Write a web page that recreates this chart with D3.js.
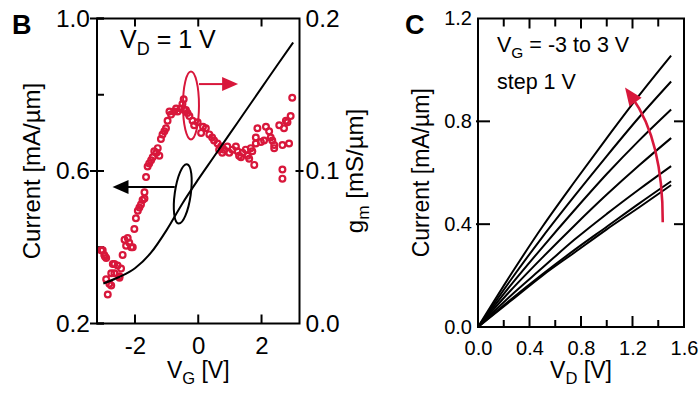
<!DOCTYPE html>
<html><head><meta charset="utf-8">
<script src="https://cdn.jsdelivr.net/npm/d3@7"></script>
<style>
body{margin:0;background:#fff}
svg{display:block}
text{font-family:'Liberation Sans',Arial,Helvetica,sans-serif}
</style>
</head><body>
<svg id="fig" width="699" height="393"></svg>
<script>
// ---------- Panel B: transfer characteristic at VD = 1 V ----------
const vgSweep = [-3, -2.5, -2, -1.5, -1, -0.5, 0, 0.5, 1, 1.5, 2, 2.5, 3];
const idSweep = [0.305, 0.322, 0.345, 0.385, 0.445, 0.515, 0.578, 0.638, 0.698, 0.758, 0.818, 0.878, 0.937];

// transconductance samples (VG in V, gm in mS/um)
const gmVg = [-3.07,-3.02,-2.97,-2.95,-2.91,-2.91,-2.86,-2.81,-2.75,-2.75,-2.70,-2.65,-2.65,-2.55,-2.49,-2.49,-2.44,-2.39,-2.33,-2.28,
  -2.23,-2.18,-2.12,-2.07,-2.02,-1.97,-1.91,-1.86,-1.81,-1.76,-1.70,-1.70,-1.65,-1.60,-1.55,-1.49,-1.44,-1.39,-1.32,-1.28,
  -1.23,-1.18,-1.13,-1.07,-1.02,-0.97,-0.91,-0.86,-0.76,-0.70,-0.65,-0.55,-0.50,-0.46,-0.44,-0.39,-0.34,-0.28,-0.18,-0.13,
  -0.02,0.09,0.15,0.24,0.35,0.44,0.50,0.61,0.66,0.72,0.76,0.82,0.92,0.98,1.08,1.19,1.24,1.29,1.35,1.40,
  1.50,1.56,1.61,1.66,1.71,1.77,1.82,1.82,1.87,1.98,2.08,2.14,2.24,2.29,2.34,2.40,2.40,2.56,2.66,2.66,
  2.66,2.71,2.77,2.82,2.87,2.92,2.97];
const gmVal = [0.048,0.048,0.045,0.044,0.043,0.029,0.019,0.026,0.025,0.033,0.039,0.039,0.033,0.038,0.031,0.030,0.036,0.045,0.055,0.051,
  0.056,0.053,0.050,0.050,0.062,0.069,0.074,0.076,0.078,0.081,0.082,0.086,0.096,0.103,0.105,0.107,0.109,0.113,0.112,0.115,
  0.110,0.121,0.124,0.126,0.128,0.133,0.139,0.137,0.139,0.141,0.139,0.141,0.144,0.147,0.140,0.140,0.138,0.136,0.133,0.130,
  0.132,0.125,0.129,0.128,0.124,0.122,0.120,0.118,0.114,0.116,0.112,0.114,0.116,0.112,0.114,0.116,0.113,0.110,0.109,0.112,
  0.114,0.110,0.108,0.115,0.113,0.104,0.118,0.122,0.128,0.119,0.120,0.129,0.126,0.122,0.120,0.117,0.115,0.130,0.117,0.101,
  0.095,0.128,0.133,0.132,0.118,0.136,0.148];

const bCurrentTicks = [0.2, 0.4, 0.6, 0.8, 1.0];
const bCurrentLabels = [0.2, 0.6, 1.0];
const bGmTicks = [0, 0.1, 0.2];
const bVgTicks = [-2, 0, 2];

// ---------- Panel C: output characteristics, VG = -3 ... 3 V ----------
const vdSteps = [0, 0.25, 0.5, 0.75, 1.0, 1.25, 1.5];
const idVgm3 = [0, 0.100, 0.200, 0.290, 0.380, 0.465, 0.552];
const idVgm2 = [0, 0.105, 0.205, 0.300, 0.390, 0.480, 0.567];
const idVgm1 = [0, 0.120, 0.230, 0.340, 0.440, 0.535, 0.626];
const idVg0  = [0, 0.140, 0.270, 0.395, 0.515, 0.628, 0.735];
const idVg1  = [0, 0.160, 0.310, 0.455, 0.595, 0.725, 0.846];
const idVg2  = [0, 0.180, 0.350, 0.510, 0.665, 0.815, 0.955];
const idVg3  = [0, 0.200, 0.390, 0.565, 0.735, 0.900, 1.056];
const outputCurves = [idVgm3, idVgm2, idVgm1, idVg0, idVg1, idVg2, idVg3];

const cCurrentTicks = [0, 0.4, 0.8, 1.2];
const cVdTicks = [0, 0.2, 0.4, 0.6, 0.8, 1.0, 1.2, 1.4, 1.6];
const cVdLabels = [0, 0.4, 0.8, 1.2, 1.6];

const RED = "#d8173b";
const FONT = "'Liberation Sans',Arial,Helvetica,sans-serif";
const svg = d3.select("#fig");
svg.append("rect").attr("width", 699).attr("height", 393).attr("fill", "#fff");

// helpers ------------------------------------------------------------
function vTicks(g, x0, scale, values, inner, outer, dir) {
  g.selectAll(null).data(values).join("line")
    .attr("x1", x0 - dir * outer).attr("x2", x0 + dir * inner)
    .attr("y1", d => scale(d)).attr("y2", d => scale(d))
    .attr("stroke", "#000").attr("stroke-width", 2);
}
function hTicks(g, y0, scale, values, lenFn, dir) {
  g.selectAll(null).data(values).join("line")
    .attr("y1", y0).attr("y2", d => y0 + dir * lenFn(d))
    .attr("x1", d => scale(d)).attr("x2", d => scale(d))
    .attr("stroke", "#000").attr("stroke-width", 2);
}
function styleAxis(g, size) {
  g.attr("font-family", FONT).attr("font-size", size);
  g.select(".domain").remove();
  g.selectAll(".tick line").remove();
  g.selectAll(".tick text").attr("fill", "#000");
}
function arrowHead(g, tip, from, len, half, color) {
  const dx = tip[0] - from[0], dy = tip[1] - from[1];
  const n = Math.hypot(dx, dy), ux = dx / n, uy = dy / n;
  const bx = tip[0] - ux * len, by = tip[1] - uy * len;
  g.append("path")
    .attr("d", `M${tip[0]},${tip[1]}L${bx - uy * half},${by + ux * half}L${bx + uy * half},${by - ux * half}Z`)
    .attr("fill", color);
}
function subText(g, x, y, size, parts, anchor) {
  const t = g.append("text").attr("x", x).attr("y", y).attr("font-size", size)
    .attr("text-anchor", anchor || "start").attr("fill", "#000");
  const sub = Math.round(size * 0.27);
  parts.forEach(([s, isSub]) => {
    if (isSub) t.append("tspan").attr("font-size", size * 0.72).attr("dy", sub).text(s);
    else t.append("tspan").attr("dy", t.selectAll("tspan").size() ? -sub : 0).text(s);
  });
  return t;
}

// ================= Panel B =================
const bx = d3.scaleLinear().domain([-3.2, 3.2]).range([97, 299.5]);
const by = d3.scaleLinear().domain([0.2, 1.0]).range([323.5, 18.5]);
const bgm = d3.scaleLinear().domain([0, 0.2]).range([323.5, 18.5]);
const gB = svg.append("g");

// tick labels through d3 axes
gB.append("g").attr("transform", `translate(${bx(-3.2)},0)`)
  .call(d3.axisLeft(by).tickValues(bCurrentLabels).tickFormat(d3.format(".1f")).tickSize(0).tickPadding(7))
  .call(g => styleAxis(g, 24.5));
gB.append("g").attr("transform", `translate(${bx(3.2)},0)`)
  .call(d3.axisRight(bgm).tickValues(bGmTicks).tickFormat(d3.format(".1f")).tickSize(0).tickPadding(6))
  .call(g => styleAxis(g, 24.5));
gB.append("g").attr("transform", `translate(0,${by(0.2)})`)
  .call(d3.axisBottom(bx).tickValues(bVgTicks).tickFormat(d => String(d)).tickSize(0).tickPadding(13))
  .call(g => styleAxis(g, 24));

// tick marks
vTicks(gB, bx(-3.2), by, bCurrentTicks, 7, 0, 1);
vTicks(gB, bx(-3.2), by, bCurrentLabels, 7, 7, 1);
vTicks(gB, bx(3.2), bgm, [0.1], 4, 4, -1);
hTicks(gB, by(0.2), bx, bVgTicks, () => 9, -1);
hTicks(gB, by(1.0), bx, bVgTicks, () => 8, 1);

// gm scatter (right axis)
gB.append("g").selectAll("circle").data(gmVg).join("circle")
  .attr("cx", d => bx(d)).attr("cy", (d, i) => bgm(gmVal[i])).attr("r", 2.9)
  .attr("fill", "none").attr("stroke", RED).attr("stroke-width", 2.2);

// drain current (left axis)
gB.append("path")
  .datum(vgSweep.map((v, i) => [v, idSweep[i]]))
  .attr("d", d3.line().x(d => bx(d[0])).y(d => by(d[1])).curve(d3.curveMonotoneX))
  .attr("fill", "none").attr("stroke", "#000").attr("stroke-width", 2);

// frame
gB.append("rect").attr("x", bx(-3.2)).attr("y", by(1.0))
  .attr("width", bx(3.2) - bx(-3.2)).attr("height", by(0.2) - by(1.0))
  .attr("fill", "none").attr("stroke", "#000").attr("stroke-width", 2);

// axis-assignment markers: loop + arrow
const blackLoop = [bx(-0.49), by(0.54)];
gB.append("ellipse").attr("cx", blackLoop[0]).attr("cy", blackLoop[1]).attr("rx", 8).attr("ry", 30)
  .attr("transform", `rotate(8,${blackLoop[0]},${blackLoop[1]})`)
  .attr("fill", "none").attr("stroke", "#000").attr("stroke-width", 2);
const blackTip = [bx(-2.71), by(0.558)];
gB.append("line").attr("x1", blackLoop[0] - 8).attr("x2", blackTip[0] + 10)
  .attr("y1", blackTip[1]).attr("y2", blackTip[1]).attr("stroke", "#000").attr("stroke-width", 2);
arrowHead(gB, blackTip, [blackTip[0] + 20, blackTip[1]], 16, 7, "#000");

const redLoop = [bx(-0.23), bgm(0.143)];
gB.append("ellipse").attr("cx", redLoop[0]).attr("cy", redLoop[1]).attr("rx", 8).attr("ry", 34)
  .attr("fill", "none").attr("stroke", RED).attr("stroke-width", 2);
const redTip = [bx(1.26), bgm(0.157)];
gB.append("line").attr("x1", redLoop[0] + 8).attr("x2", redTip[0] - 10)
  .attr("y1", redTip[1]).attr("y2", redTip[1]).attr("stroke", RED).attr("stroke-width", 2);
arrowHead(gB, redTip, [redTip[0] - 20, redTip[1]], 16, 7, RED);

// texts
gB.append("text").attr("x", 12).attr("y", 34).attr("font-size", 27).attr("font-weight", "bold").text("B");
subText(gB, 120, 55, 25, [["V"], ["D", true], [" = 1 V"]]);
subText(gB, bx(0), 384, 23, [["V"], ["G", true], [" [V]"]], "middle");
gB.append("text").attr("transform", `translate(40,${(by(0.2) + by(1.0)) / 2}) rotate(-90)`)
  .attr("text-anchor", "middle").attr("font-size", 24).text("Current [mA/\u00b5m]");
subText(gB.append("g").attr("transform", `translate(369,${(by(0.2) + by(1.0)) / 2}) rotate(-90)`),
  0, 0, 24, [["g"], ["m", true], [" [mS/\u00b5m]"]], "middle");

// ================= Panel C =================
const cx = d3.scaleLinear().domain([0, 1.6]).range([478, 684]);
const cy = d3.scaleLinear().domain([0, 1.2]).range([327, 18.5]);
const gC = svg.append("g");

gC.append("g").attr("transform", `translate(${cx(0)},0)`)
  .call(d3.axisLeft(cy).tickValues(cCurrentTicks).tickFormat(d3.format(".1f")).tickSize(0).tickPadding(6))
  .call(g => styleAxis(g, 20));
gC.append("g").attr("transform", `translate(0,${cy(0)})`)
  .call(d3.axisBottom(cx).tickValues(cVdLabels).tickFormat(d3.format(".1f")).tickSize(0).tickPadding(14))
  .call(g => styleAxis(g, 20));

vTicks(gC, cx(0), cy, [0.4, 0.8], 12, 2, 1);
vTicks(gC, cx(1.6), cy, [0.4, 0.8], 10, 0, -1);
const isMajor = d => cVdLabels.some(v => Math.abs(v - d) < 1e-9);
hTicks(gC, cy(0), cx, cVdTicks, d => isMajor(d) ? 11 : 7, -1);
hTicks(gC, cy(1.2), cx, cVdTicks, d => isMajor(d) ? 10 : 8, 1);

const cLine = d3.line().x(d => cx(d[0])).y(d => cy(d[1])).curve(d3.curveMonotoneX);
gC.append("g").selectAll("path").data(outputCurves).join("path")
  .attr("d", c => cLine(vdSteps.map((v, i) => [v, c[i]])))
  .attr("fill", "none").attr("stroke", "#000").attr("stroke-width", 2);

gC.append("rect").attr("x", cx(0)).attr("y", cy(1.2))
  .attr("width", cx(1.6) - cx(0)).attr("height", cy(0) - cy(1.2))
  .attr("fill", "none").attr("stroke", "#000").attr("stroke-width", 2);

// gate-voltage direction arrow
const arcStart = [cx(1.435), cy(0.407)];
const arcCtrl = [cx(1.437), cy(0.726)];
const arcTip = [cx(1.142), cy(0.932)];
{
  const dx = arcTip[0] - arcCtrl[0], dy = arcTip[1] - arcCtrl[1], n = Math.hypot(dx, dy);
  const arcEnd = [arcTip[0] - dx / n * 12, arcTip[1] - dy / n * 12];
  gC.append("path")
    .attr("d", `M${arcStart}Q${arcCtrl} ${arcEnd}`)
    .attr("fill", "none").attr("stroke", RED).attr("stroke-width", 2.6);
  arrowHead(gC, arcTip, arcCtrl, 18, 7.5, RED);
}

gC.append("text").attr("x", 405).attr("y", 34).attr("font-size", 27).attr("font-weight", "bold").text("C");
subText(gC, 497, 58, 21.5, [["V"], ["G", true], [" = -3 to 3 V"]]);
gC.append("text").attr("x", 497).attr("y", 89).attr("font-size", 21.5).text("step 1 V");
subText(gC, cx(0.8), 384, 23, [["V"], ["D", true], [" [V]"]], "middle");
gC.append("text").attr("transform", `translate(429,${(cy(0) + cy(1.2)) / 2}) rotate(-90)`)
  .attr("text-anchor", "middle").attr("font-size", 23).text("Current [mA/\u00b5m]");
</script>
</body></html>
